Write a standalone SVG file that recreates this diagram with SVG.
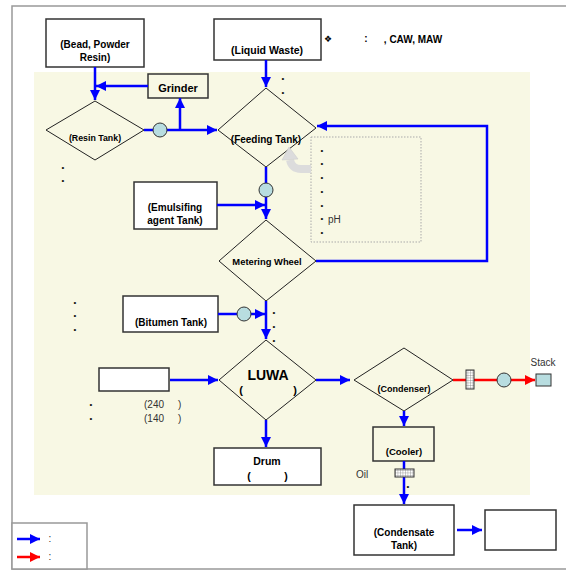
<svg xmlns="http://www.w3.org/2000/svg" width="566" height="570" viewBox="0 0 566 570">
<style>
.box{fill:#fff;stroke:#333;stroke-width:1.5}
.ybox{fill:#f8f8e4;stroke:#333;stroke-width:1.5}
.dia{fill:none;stroke:#222;stroke-width:1}
.b{font-family:"Liberation Sans",Arial,sans-serif;font-weight:bold;fill:#000;text-anchor:middle}
.r{font-family:"Liberation Sans",Arial,sans-serif;fill:#333;font-size:10px}
.bul{font-family:"Liberation Sans",Arial,sans-serif;fill:#111;font-size:8px;text-anchor:middle}
.fb{stroke:#0000ff;stroke-width:2.5;fill:none}
.fr{stroke:#ff0000;stroke-width:2.5;fill:none}
.pump{fill:#b8dde0;stroke:#333;stroke-width:1}
</style>
<defs>
<marker id="ab" markerUnits="userSpaceOnUse" markerWidth="11" markerHeight="11" refX="10" refY="5" orient="auto"><path d="M0,0 L10,5 L0,10 z" fill="#0000ff"/></marker>
<marker id="ar" markerUnits="userSpaceOnUse" markerWidth="11" markerHeight="11" refX="10" refY="5" orient="auto"><path d="M0,0 L10,5 L0,10 z" fill="#ff0000"/></marker>
<pattern id="grid" patternUnits="userSpaceOnUse" width="2.5" height="2.5"><rect width="2.5" height="2.5" fill="#fff"/><path d="M0,0 H2.5 M0,0 V2.5" stroke="#777" stroke-width="0.7"/></pattern>
</defs>
<rect x="0" y="0" width="566" height="570" fill="#fff"/>
<rect x="12" y="6" width="570" height="563" fill="none" stroke="#999" stroke-width="1.5"/>
<rect x="34" y="72" width="496" height="423" fill="#f8f8e4"/>

<g id="bead"><rect class="box" x="46" y="19" width="98" height="48"/><text class="b" font-size="10" x="95" y="48">(Bead, Powder</text><text class="b" font-size="10" x="95" y="61">Resin)</text></g>
<g id="liquid-waste"><rect class="box" x="214" y="19" width="107" height="41"/><text class="b" font-size="10.5" x="267" y="54">(Liquid Waste)</text></g>
<g id="note"><text x="328" y="42" font-family="'DejaVu Sans',sans-serif" font-size="9" text-anchor="middle" fill="#000">❖</text><text class="b" font-size="10" x="366" y="42">:</text><text class="b" font-size="10" x="413" y="43" text-anchor="start">, CAW, MAW</text></g>
<g id="grinder"><rect class="ybox" x="148" y="74" width="60" height="24"/><text class="b" font-size="11" x="178" y="92">Grinder</text></g>
<g id="resin-tank"><path class="dia" d="M95,101 L144,130 L95,160 L46,130 Z"/><text class="b" font-size="8.8" x="95" y="141">(Resin Tank)</text></g>
<g id="feeding-tank"><path class="dia" d="M266,88 L316,128 L266,167 L218,130 Z"/><text class="b" font-size="10" x="266" y="143">(Feeding Tank)</text>
<text class="bul" x="283" y="81">•</text><text class="bul" x="283" y="95">•</text></g>
<g id="conditions"><rect x="311" y="137" width="110" height="105" fill="none" stroke="#aaa" stroke-width="1" stroke-dasharray="1.5,1.5"/>
<text class="bul" x="322" y="153">•</text><text class="bul" x="322" y="166">•</text><text class="bul" x="322" y="180">•</text><text class="bul" x="322" y="194">•</text><text class="bul" x="322" y="208">•</text><text class="bul" x="322" y="221">•</text><text class="bul" x="322" y="235">•</text>
<text class="r" font-size="11" x="328" y="223">pH</text>
<path d="M311,169 L301,169 Q292,169 290,160" fill="none" stroke="#dcdcdc" stroke-width="8"/>
<path d="M282,160 L298,159 L289,147 Z" fill="#dcdcdc" stroke="#c8c8c8" stroke-width="0.5"/></g>
<g id="emulsifying"><rect class="box" x="134" y="182" width="83" height="47"/><text class="b" font-size="10" x="175" y="211">(Emulsifing</text><text class="b" font-size="10" x="175" y="224">agent Tank)</text>
<text class="bul" x="63" y="170">•</text><text class="bul" x="63" y="183">•</text></g>
<g id="metering-wheel"><path class="dia" d="M266,220 L316,261 L266,301 L219,261 Z"/><text class="b" font-size="9.4" x="267" y="265">Metering Wheel</text></g>
<g id="bitumen"><rect class="box" x="123" y="296" width="95" height="36"/><text class="b" font-size="10" x="171" y="326">(Bitumen Tank)</text>
<text class="bul" x="75" y="305">•</text><text class="bul" x="75" y="318">•</text><text class="bul" x="75" y="332">•</text>
<text class="bul" x="274" y="315">•</text><text class="bul" x="274" y="329">•</text><text class="bul" x="274" y="343">•</text></g>
<g id="luwa"><path class="dia" d="M266,340 L316,380 L266,420 L219,380 Z"/><text class="b" font-size="14" x="268" y="380">LUWA</text><text class="b" font-size="11" x="241" y="394">(</text><text class="b" font-size="11" x="295" y="394">)</text></g>
<g id="feed-box"><rect class="box" x="99" y="368" width="70" height="23"/>
<text class="bul" x="91" y="407">•</text><text class="r" x="144" y="408">(240</text><text class="r" x="178" y="408">)</text>
<text class="bul" x="91" y="421">•</text><text class="r" x="144" y="422">(140</text><text class="r" x="178" y="422">)</text></g>
<g id="drum"><rect class="box" x="214" y="448" width="107" height="37"/><text class="b" font-size="10.5" x="267" y="465">Drum</text><text class="b" font-size="10.5" x="249" y="480">(</text><text class="b" font-size="10.5" x="286" y="480">)</text></g>
<g id="condenser"><path class="dia" d="M404,348 L453,380 L404,411 L354,380 Z"/><text class="b" font-size="9" x="404" y="392">(Condenser)</text></g>
<g id="stack"><rect x="536" y="374" width="15" height="12" fill="#b8dde0" stroke="#333" stroke-width="1"/><text class="r" font-size="9" x="543" y="366" text-anchor="middle">Stack</text></g>
<g id="cooler"><rect class="ybox" x="373" y="427" width="61" height="34"/><text class="b" font-size="9.5" x="404" y="455">(Cooler)</text></g>
<g id="condensate-tank"><rect class="box" x="354" y="505" width="100" height="50"/><text class="b" font-size="10" x="404" y="536">(Condensate</text><text class="b" font-size="10" x="404" y="549">Tank)</text></g>
<g id="out-box"><rect class="box" x="485" y="510" width="71" height="40"/></g>

<g id="connectors">
<line class="fb" x1="95" y1="67" x2="95" y2="100" marker-end="url(#ab)"/>
<line class="fb" x1="148" y1="86" x2="96" y2="86" marker-end="url(#ab)"/>
<line class="fb" x1="144" y1="130" x2="217" y2="130" marker-end="url(#ab)"/>
<line class="fb" x1="180" y1="130" x2="180" y2="98" marker-end="url(#ab)"/>
<line class="fb" x1="266" y1="60" x2="266" y2="87" marker-end="url(#ab)"/>
<line class="fb" x1="266" y1="167" x2="266" y2="219" marker-end="url(#ab)"/>
<line class="fb" x1="217" y1="205" x2="265" y2="205" marker-end="url(#ab)"/>
<polyline class="fb" points="316,261 487,261 487,126 317,126" marker-end="url(#ab)"/>
<line class="fb" x1="218" y1="314" x2="265" y2="314" marker-end="url(#ab)"/>
<line class="fb" x1="266" y1="301" x2="266" y2="339" marker-end="url(#ab)"/>
<line class="fb" x1="170" y1="380" x2="218" y2="380" marker-end="url(#ab)"/>
<line class="fb" x1="266" y1="420" x2="266" y2="447" marker-end="url(#ab)"/>
<line class="fb" x1="316" y1="380" x2="350" y2="380" marker-end="url(#ab)"/>
<line class="fr" x1="453" y1="380" x2="535" y2="380" marker-end="url(#ar)"/>
<line class="fb" x1="404" y1="411" x2="404" y2="426" marker-end="url(#ab)"/>
<line class="fb" x1="404" y1="461" x2="404" y2="504" marker-end="url(#ab)"/>
<line class="fb" x1="457" y1="530" x2="482" y2="530" marker-end="url(#ab)"/>
<circle class="pump" cx="160" cy="130" r="7"/>
<circle class="pump" cx="266" cy="190" r="7"/>
<circle class="pump" cx="244" cy="314" r="7"/>
<circle class="pump" cx="504" cy="380" r="7"/>
<rect x="466" y="370" width="8" height="19" fill="url(#grid)" stroke="#333" stroke-width="1"/>
<rect x="395" y="469" width="19" height="8" fill="url(#grid)" stroke="#333" stroke-width="1"/>
<text class="bul" x="408" y="489" fill="#00008b">•</text>
<text class="r" font-size="8" x="362" y="478" text-anchor="middle">Oil</text>
</g>

<g id="legend"><rect x="12" y="523" width="75" height="46" fill="#fff" stroke="#999" stroke-width="1.5"/>
<line class="fb" x1="17" y1="539" x2="40" y2="539" marker-end="url(#ab)"/>
<line class="fr" x1="17" y1="557" x2="40" y2="557" marker-end="url(#ar)"/>
<text class="r" x="50" y="542" text-anchor="middle">:</text><text class="r" x="50" y="560" text-anchor="middle">:</text></g>
</svg>
